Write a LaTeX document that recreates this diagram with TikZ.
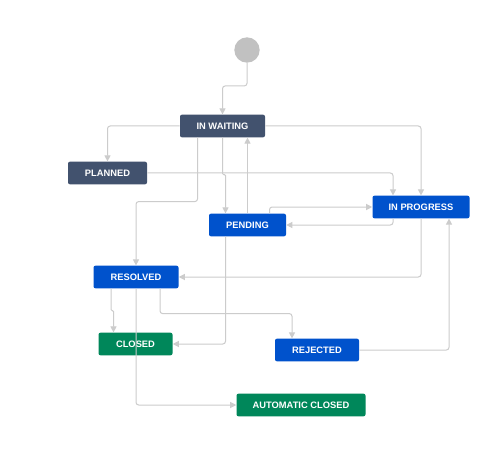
\documentclass[tikz,border=0pt]{standalone}
\usepackage{fontspec}
\setmainfont{Liberation Sans}
\usepackage{tikz}
\usetikzlibrary{calc}
\usetikzlibrary{arrows.meta}
\tikzset{>={Triangle[width=4.5pt,length=4.5pt]}}
\definecolor{jiradark}{HTML}{42526E}
\definecolor{jirablue}{HTML}{0052CC}
\definecolor{jiragreen}{HTML}{00875A}
\definecolor{startgray}{HTML}{C1C1C1}
\definecolor{linegray}{HTML}{CCCCCC}

\begin{document}
\begin{tikzpicture}[x=0.75pt, y=-0.75pt, statenode/.style={rectangle, rounded corners=1.5pt, text=white, font=\fontsize{7}{8}\selectfont\bfseries, minimum height=17pt, inner sep=0pt}, darknode/.style={statenode, fill=jiradark}, bluenode/.style={statenode, fill=jirablue}, greennode/.style={statenode, fill=jiragreen}, startnode/.style={circle, fill=startgray, minimum size=19pt, inner sep=0pt}, flow/.style={->, draw=linegray, line width=0.75pt, rounded corners=2pt}]

    \path[use as bounding box, fill=white] (0,0) rectangle (502,463);

    %Nodes
    \node[startnode](start) at (247,50){};
    \node[darknode, minimum width=63.75pt](inwaiting) at (222.5,126){IN WAITING};
    \node[darknode, minimum width=59.25pt](planned) at (107.5,173){PLANNED};
    \node[bluenode, minimum width=57.75pt](pending) at (247.5,225){PENDING};
    \node[bluenode, minimum width=72.75pt](inprogress) at (421,207){IN PROGRESS};
    \node[bluenode, minimum width=63.75pt](resolved) at (136,277){RESOLVED};
    \node[greennode, minimum width=55.5pt](closed) at (135.5,344){CLOSED};
    \node[bluenode, minimum width=63pt](rejected) at (317,350){REJECTED};
    \node[greennode, minimum width=96.75pt](autoclosed) at (301,405){AUTOMATIC CLOSED};

    %Lines
    \draw[flow] (start.south) -- ++(0,23) -| (inwaiting.north);
    \draw[flow] (inwaiting.west) -| (planned.north);
    \draw[flow] (inwaiting.east) -| (inprogress.north);
    \draw[flow] (planned.east) -| ($(inprogress.north)+(-28,0)$);
    \draw[flow, rounded corners=0.8pt] (inwaiting.south) -- ++(0,37) -| ($(pending.north)+(-22,0)$);
    \draw[flow] (pending.north) -- (pending.north |- inwaiting.south);
    \draw[flow] ($(inwaiting.south)+(-25,0)$) -- ++(0,64) -| (resolved.north);
    \draw[flow] ($(pending.north)+(22,0)$) |- (inprogress.west);
    \draw[flow] ($(inprogress.south)+(-28,0)$) |- (pending.east);
    \draw[flow] (inprogress.south) |- (resolved.east);
    \draw[flow] (rejected.east) -| ($(inprogress.south)+(28,0)$);
    \draw[flow] ($(pending.south)+(-22,0)$) |- (closed.east);
    \draw[flow, rounded corners=0.8pt] ($(resolved.south)+(-25,0)$) -- ++(0,22) -| ($(closed.north)+(-22,0)$);
    \draw[flow] ($(resolved.south)+(24,0)$) -- ++(0,25) -| ($(rejected.north)+(-25,0)$);
    \draw[flow] (resolved.south) |- (autoclosed.west);

\end{tikzpicture}
\end{document}
